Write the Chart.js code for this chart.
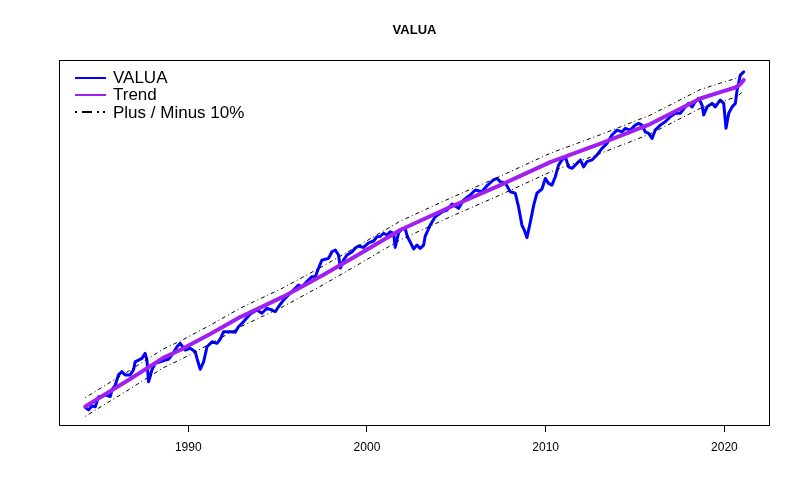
<!DOCTYPE html>
<html><head><meta charset="utf-8">
<script src="https://cdn.jsdelivr.net/npm/chart.js@4.4.0/dist/chart.umd.min.js"></script>
<style>html,body{margin:0;padding:0;background:#fff}</style>
</head><body>
<canvas id="c" width="800" height="500"></canvas>
<script>
// Decimal years and log10 of the VALUA index (log-scaled chart)
const years=[1984.24,1984.42,1984.61,1984.80,1984.98,1985.17,1985.36,1985.64,1985.73,1985.92,
1986.10,1986.29,1986.47,1986.75,1986.94,1987.03,1987.22,1987.41,1987.59,1987.69,
1987.78,1987.87,1987.97,1988.15,1988.43,1988.71,1988.90,1989.09,1989.37,1989.55,
1989.83,1990.11,1990.39,1990.49,1990.67,1990.86,1991.05,1991.33,1991.61,1991.79,
1991.98,1992.35,1992.63,1992.81,1993.09,1993.47,1993.84,1994.12,1994.40,1994.68,
1994.87,1995.05,1995.33,1995.61,1995.89,1996.17,1996.36,1996.64,1996.92,1997.11,
1997.29,1997.48,1997.67,1997.85,1998.04,1998.23,1998.41,1998.51,1998.69,1998.88,
1999.16,1999.35,1999.53,1999.81,2000.09,2000.37,2000.56,2000.74,2000.93,2001.12,
2001.30,2001.49,2001.58,2001.77,2001.96,2002.14,2002.26,2002.42,2002.61,2002.80,
2002.98,2003.17,2003.26,2003.54,2003.82,2004.20,2004.48,2004.76,2005.13,2005.41,
2005.78,2006.06,2006.44,2006.72,2007.08,2007.29,2007.46,2007.74,2008.02,2008.30,
2008.48,2008.67,2008.80,2008.95,2009.14,2009.32,2009.51,2009.79,2009.98,2010.16,
2010.35,2010.54,2010.72,2010.91,2011.10,2011.28,2011.47,2011.75,2011.94,2012.12,
2012.31,2012.59,2012.87,2013.15,2013.43,2013.71,2013.99,2014.27,2014.46,2014.73,
2015.01,2015.20,2015.39,2015.57,2015.76,2015.95,2016.13,2016.41,2016.69,2016.97,
2017.25,2017.53,2017.81,2018.00,2018.19,2018.37,2018.56,2018.75,2018.84,2019.03,
2019.31,2019.49,2019.77,2019.96,2020.09,2020.24,2020.43,2020.61,2020.71,2020.89,
2021.08];
const valua=[2.082,2.070,2.088,2.085,2.132,2.132,2.140,2.132,2.163,2.186,
2.233,2.248,2.233,2.233,2.256,2.294,2.302,2.310,2.333,2.302,
2.201,2.225,2.256,2.287,2.294,2.302,2.306,2.326,2.364,2.380,
2.349,2.357,2.341,2.310,2.259,2.294,2.364,2.387,2.380,2.399,
2.434,2.434,2.431,2.457,2.480,2.516,2.535,2.520,2.543,2.535,
2.527,2.550,2.581,2.605,2.628,2.651,2.643,2.667,2.690,2.690,
2.729,2.767,2.771,2.775,2.806,2.814,2.791,2.730,2.767,2.791,
2.805,2.823,2.833,2.826,2.847,2.856,2.876,2.877,2.892,2.884,
2.899,2.892,2.826,2.895,2.912,2.915,2.876,2.851,2.819,2.837,
2.821,2.837,2.879,2.930,2.969,2.991,3.000,3.028,3.008,3.047,
3.070,3.093,3.085,3.114,3.140,3.147,3.132,3.126,3.085,3.078,
3.015,2.930,2.907,2.872,2.944,3.019,3.079,3.098,3.147,3.124,
3.116,3.155,3.209,3.233,3.248,3.201,3.194,3.217,3.233,3.201,
3.225,3.233,3.256,3.287,3.310,3.349,3.372,3.364,3.380,3.372,
3.395,3.403,3.395,3.364,3.357,3.333,3.372,3.395,3.411,3.434,
3.450,3.450,3.480,3.496,3.480,3.504,3.520,3.488,3.442,3.480,
3.496,3.480,3.512,3.496,3.380,3.450,3.480,3.496,3.558,3.628,
3.643];
const trendYears=[1984.24,1986.75,1988.60,1989.55,1991.23,1992.91,1995.32,1997.55,1999.63,2001.86,
2004.66,2007.46,2010.26,2013.06,2015.85,2018.65,2019.77,2020.61,2020.89,2021.08];
const trend=[2.086,2.214,2.312,2.349,2.423,2.502,2.597,2.698,2.798,2.907,
3.014,3.116,3.223,3.309,3.400,3.519,3.549,3.570,3.586,3.605];
const xTicks=[1990,2000,2010,2020];
const seriesLabels=['VALUA','Trend','Plus / Minus 10%'];
const bandUp=Math.log10(1.1), bandDown=Math.log10(0.9);

const pts=(xs,ys)=>xs.map((x,i)=>({x:x,y:ys[i]}));
const upper=trend.map(v=>v+bandUp);
const lower=trend.map(v=>v+bandDown);

Chart.defaults.font.family='"Liberation Sans", Arial, sans-serif';
Chart.defaults.color='#000';

const boxPlugin={id:'rbox',afterDraw(chart){
  const a=chart.chartArea,ctx=chart.ctx;
  ctx.save();ctx.strokeStyle='#000';ctx.lineWidth=1;ctx.setLineDash([]);
  ctx.strokeRect(Math.round(a.left)+0.5,Math.round(a.top)+0.5,Math.round(a.right-a.left)-1,Math.round(a.bottom-a.top));
  ctx.restore();
}};
const legendPlugin={id:'rlegend',afterDraw(chart){
  const a=chart.chartArea,ctx=chart.ctx;
  const x0=a.left+16,x1=a.left+47,tx=a.left+54;
  const rows=[a.top+17.7,a.top+34.5,a.top+52.3];
  const styles=[{c:'#0000FF',w:2,d:[]},{c:'#A020F0',w:2,d:[]},{c:'#000',w:2,d:[2,5,10,5,2,4]}];
  ctx.save();
  ctx.font='17px "Liberation Sans", Arial, sans-serif';
  ctx.textBaseline='middle';ctx.textAlign='left';ctx.fillStyle='#000';
  rows.forEach((y,i)=>{
    const s=styles[i];
    ctx.beginPath();ctx.strokeStyle=s.c;ctx.lineWidth=s.w;ctx.setLineDash(s.d);ctx.lineCap='butt';
    ctx.moveTo(x0,Math.round(y));ctx.lineTo(x1,Math.round(y));ctx.stroke();
    ctx.setLineDash([]);
    ctx.fillText(seriesLabels[i],tx,y+1);
  });
  ctx.restore();
}};

new Chart(document.getElementById('c'),{
  type:'line',
  data:{datasets:[
    {label:seriesLabels[2],data:pts(trendYears,upper),borderColor:'#000',borderWidth:1,borderDash:[1,3,4,3],pointRadius:0,order:1},
    {label:seriesLabels[2]+' (lower)',data:pts(trendYears,lower),borderColor:'#000',borderWidth:1,borderDash:[1,3,4,3],pointRadius:0,order:1},
    {label:seriesLabels[1],data:pts(trendYears,trend),borderColor:'#A020F0',borderWidth:4,pointRadius:0,borderCapStyle:'round',borderJoinStyle:'round',order:2},
    {label:seriesLabels[0],data:pts(years,valua),borderColor:'#0000FF',borderWidth:3,pointRadius:0,borderCapStyle:'round',borderJoinStyle:'round',order:3}
  ]},
  options:{
    responsive:false,animation:false,devicePixelRatio:1,
    layout:{padding:{left:59,right:30,top:0,bottom:37.6}},
    plugins:{
      legend:{display:false},tooltip:{enabled:false},
      title:{display:true,text:'VALUA',color:'#000',font:{size:13,weight:'bold'},padding:{top:23,bottom:21.4}}
    },
    scales:{
      x:{type:'linear',min:1982.77,max:2022.55,
        afterBuildTicks:s=>{s.ticks=xTicks.map(v=>({value:v}));},
        ticks:{callback:v=>String(v),font:{size:12},color:'#000',padding:8,maxRotation:0,autoSkip:false},
        grid:{display:true,drawOnChartArea:false,drawTicks:true,tickLength:7,color:'#000',lineWidth:1},
        border:{display:false}},
      y:{type:'linear',display:false,min:2.0,max:3.698}
    }
  },
  plugins:[boxPlugin,legendPlugin]
});
</script>
</body></html>
